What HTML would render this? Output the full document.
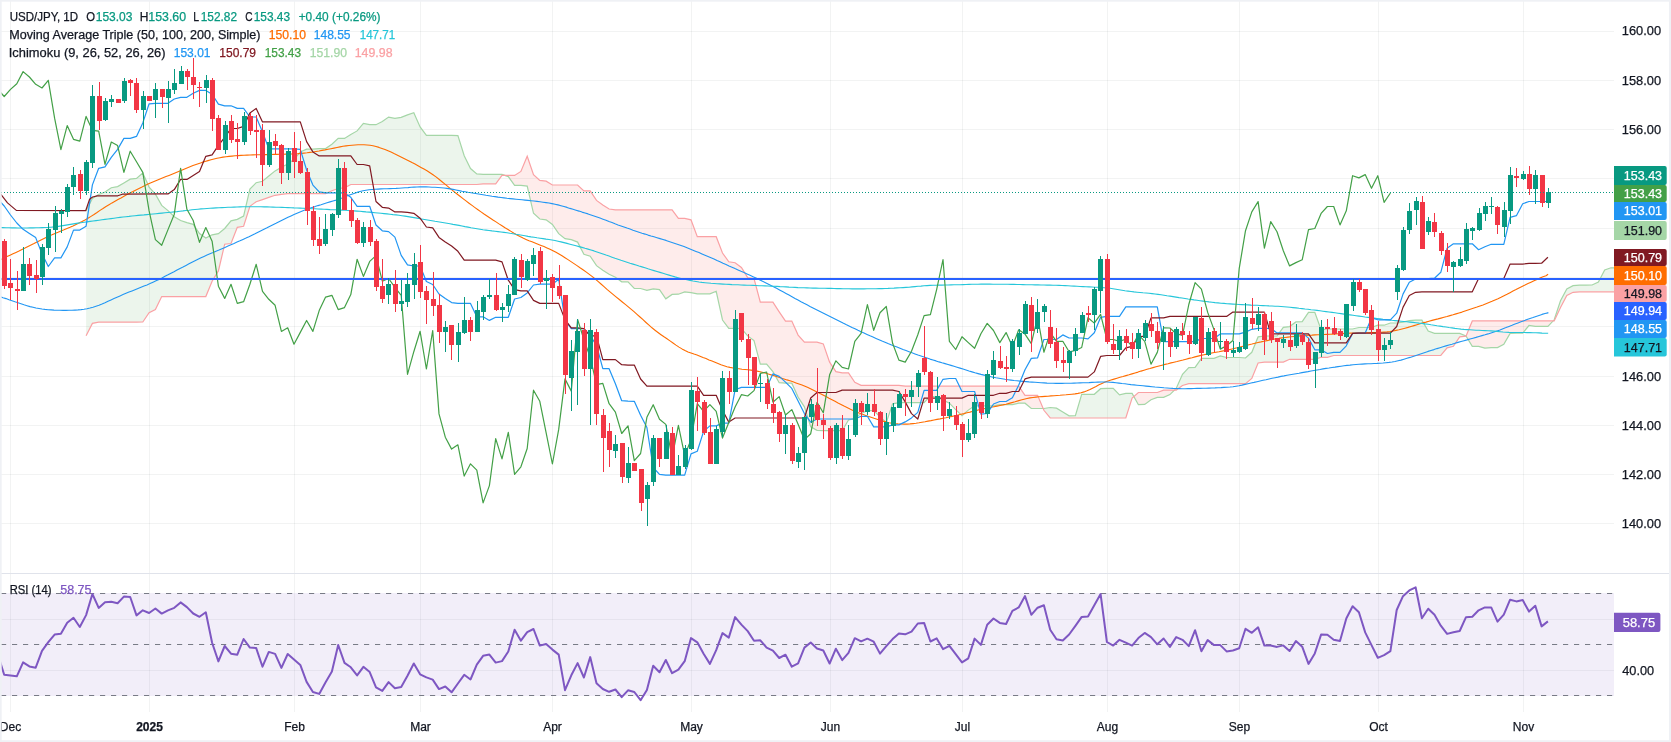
<!DOCTYPE html>
<html lang="en"><head><meta charset="utf-8"><title>USD/JPY, 1D</title>
<style>html,body{margin:0;padding:0;background:#fff;overflow:hidden}svg{display:block;will-change:transform}</style>
</head><body>
<svg width="1671" height="742" viewBox="0 0 1671 742" font-family="'Liberation Sans', 'DejaVu Sans', sans-serif" font-size="12">
<rect width="1671" height="742" fill="#ffffff"/>
<g stroke="#2a2e39" stroke-opacity="0.06" stroke-width="1" shape-rendering="crispEdges">
<line x1="10.5" y1="0" x2="10.5" y2="712"/>
<line x1="149.5" y1="0" x2="149.5" y2="712"/>
<line x1="294.5" y1="0" x2="294.5" y2="712"/>
<line x1="420.5" y1="0" x2="420.5" y2="712"/>
<line x1="552.5" y1="0" x2="552.5" y2="712"/>
<line x1="691.5" y1="0" x2="691.5" y2="712"/>
<line x1="830.5" y1="0" x2="830.5" y2="712"/>
<line x1="962.5" y1="0" x2="962.5" y2="712"/>
<line x1="1107.5" y1="0" x2="1107.5" y2="712"/>
<line x1="1239.5" y1="0" x2="1239.5" y2="712"/>
<line x1="1378.5" y1="0" x2="1378.5" y2="712"/>
<line x1="1523.5" y1="0" x2="1523.5" y2="712"/>
<line x1="0" y1="523.5" x2="1614" y2="523.5"/>
<line x1="0" y1="474.5" x2="1614" y2="474.5"/>
<line x1="0" y1="425.5" x2="1614" y2="425.5"/>
<line x1="0" y1="376.5" x2="1614" y2="376.5"/>
<line x1="0" y1="326.5" x2="1614" y2="326.5"/>
<line x1="0" y1="277.5" x2="1614" y2="277.5"/>
<line x1="0" y1="228.5" x2="1614" y2="228.5"/>
<line x1="0" y1="178.5" x2="1614" y2="178.5"/>
<line x1="0" y1="129.5" x2="1614" y2="129.5"/>
<line x1="0" y1="80.5" x2="1614" y2="80.5"/>
<line x1="0" y1="31.5" x2="1614" y2="31.5"/>
<line x1="0" y1="670.5" x2="1614" y2="670.5"/>
<line x1="0" y1="619.5" x2="1614" y2="619.5"/>
</g>
<clipPath id="cm"><rect x="0" y="0" width="1614" height="573"/></clipPath>
<clipPath id="cr"><rect x="0" y="574" width="1614" height="138"/></clipPath>
<g clip-path="url(#cm)">
<polygon points="86.1,210.7 92.4,198.4 98.7,194.5 105,192 111.3,187.7 117.6,186.6 123.9,182.9 130.2,179.2 136.5,178.4 142.8,173 149.1,187.1 155.4,194.1 161.7,205.4 168,210.6 174.3,216.7 180.6,220.5 186.9,222.6 193.2,224.3 199.5,233.6 205.8,238 212.1,234.8 218.4,233.6 224.7,228.5 231,220.8 237.3,219.4 243.6,216.1 249.9,189 256.2,182.7 262.5,181.3 268.8,176 275.1,170.9 281.4,167.2 287.7,164.1 294,159.5 300.3,151.9 306.6,149.1 312.9,149.1 319.2,148.6 325.6,148.6 331.9,144.3 338.2,138.4 344.5,138.4 350.8,134.4 357.1,130.9 363.4,123.4 369.7,124.6 376,124.7 382.3,121.6 388.6,117.1 394.9,118.4 401.2,117.4 407.5,114.9 413.8,112.7 420.1,126.9 426.4,135.3 432.7,135.3 439,135.3 445.3,135.3 451.6,135.3 457.9,135.6 464.2,155.8 470.5,168.5 476.8,173.9 483.1,174.4 489.4,174.4 495.7,174.4 502,174.4 504.9,175.4 504.9,175.4 502,175.4 495.7,183.9 489.4,183.9 483.1,183.9 476.8,184.5 470.5,184.5 464.2,184.5 457.9,184.5 451.6,184.5 445.3,184.5 439,184.5 432.7,184.5 426.4,184.5 420.1,184.5 413.8,184.5 407.5,184.5 401.2,184.5 394.9,184.5 388.6,184.5 382.3,184.5 376,184.5 369.7,184.5 363.4,184.5 357.1,184.5 350.8,184.5 344.5,187.9 338.2,188.5 331.9,190.7 325.6,193.6 319.2,193.6 312.9,193.6 306.6,193.6 300.3,193.6 294,193.6 287.7,193.6 281.4,194.3 275.1,195.3 268.8,197.4 262.5,199.6 256.2,201.7 249.9,206.3 243.6,226.3 237.3,227.4 231,243.5 224.7,244.2 218.4,270.9 212.1,281.2 205.8,296.6 199.5,296.6 193.2,296.6 186.9,296.6 180.6,296.6 174.3,296.6 168,296.6 161.7,296.6 155.4,309.5 149.1,312.6 142.8,322 136.5,322.2 130.2,322.2 123.9,322.2 117.6,322.2 111.3,322.2 105,322.2 98.7,322.2 92.4,323.4 86.1,335.8" fill="#43a047" fill-opacity="0.1"/>
<polygon points="504.9,175.4 508.3,176.6 514.6,185.4 520.9,185.4 527.2,186.1 533.5,213.3 539.8,219 546.1,219.8 552.4,224.5 558.7,233.6 565,238.7 571.3,239.7 577.6,242.1 583.9,254.2 590.2,256.2 596.5,265.7 602.8,270.3 609.1,274.3 615.4,277.3 621.7,281.8 628,281.8 634.3,288.5 640.6,288.5 646.9,290.3 653.2,288.8 659.5,289.6 665.8,298.8 672.1,294.4 678.4,294.2 684.7,291.9 691,292.7 697.3,293.8 703.6,293.8 709.9,293.8 716.2,291.3 722.5,320 728.8,328.3 735.1,328.3 741.4,328.7 747.7,335.9 754,340.5 760.3,364.1 766.6,364.1 772.9,371.7 779.2,382.7 785.5,383.1 791.8,383.2 798.1,397.1 804.4,406.8 810.7,426.8 817,430.3 823.3,430.7 829.6,430.7 835.9,430.7 842.2,430.7 848.5,420 854.8,418.7 861.1,413.4 867.4,410.6 873.7,410.6 880,416.7 886.3,422.6 892.6,403.8 898.9,402.7 905.2,402.7 911.5,402.7 917.8,402.7 924.1,402.7 930.4,395.9 936.7,397.2 943,400 949.4,403.2 955.7,409.6 962,415.8 968.3,410.1 974.6,405.8 980.9,405.8 987.2,405.8 993.5,405.8 999.8,404.6 1006.1,404.6 1012.4,404.6 1018.7,403.2 1025,403.2 1031.3,408.5 1037.6,408.5 1043.1,408.5 1043.1,408.5 1037.6,395.3 1031.3,395.3 1025,395.3 1018.7,386.1 1012.4,386.1 1006.1,386.1 999.8,386.1 993.5,386.1 987.2,386.1 980.9,386.1 974.6,386.1 968.3,386.1 962,386.1 955.7,386.1 949.4,386.1 943,386.1 936.7,386.1 930.4,386.1 924.1,386.1 917.8,386.1 911.5,386.1 905.2,386.1 898.9,385.3 892.6,385.3 886.3,385.3 880,385.3 873.7,385.3 867.4,385.3 861.1,385.3 854.8,382.4 848.5,372.9 842.2,372.9 835.9,371.7 829.6,362.2 823.3,343.9 817,342.2 810.7,342.2 804.4,342.2 798.1,335.1 791.8,321.1 785.5,321.1 779.2,311.8 772.9,302.2 766.6,302.2 760.3,302.2 754,278.5 747.7,277.6 741.4,267.5 735.1,262.7 728.8,261.8 722.5,253 716.2,236.7 709.9,236.7 703.6,236.7 697.3,236.7 691,219.8 684.7,218.4 678.4,218.4 672.1,209.8 665.8,209.8 659.5,209.8 653.2,209.8 646.9,209.8 640.6,209.8 634.3,209.8 628,209.8 621.7,209.8 615.4,209.8 609.1,209 602.8,205 596.5,200.4 590.2,190.9 583.9,190.9 577.6,185 571.3,185 565,185 558.7,185 552.4,185 546.1,181.2 539.8,180.4 533.5,174.7 527.2,156.3 520.9,171.4 514.6,175.4 508.3,175.4 504.9,175.4" fill="#f44336" fill-opacity="0.1"/>
<polygon points="1043.1,408.5 1043.9,408.5 1050.2,407.5 1056.5,408.2 1062.8,411.9 1069.1,415.8 1075.4,415.7 1081.7,394.3 1088,394.3 1094.3,394.3 1100.6,388.7 1106.9,388.3 1113.2,388.3 1119.5,394.8 1125.8,393.4 1132.1,393.4 1133.8,396.5 1133.8,396.5 1132.1,398 1125.8,418 1119.5,418 1113.2,418 1106.9,418 1100.6,418 1094.3,418 1088,418 1081.7,418 1075.4,418 1069.1,418 1062.8,418 1056.5,418 1050.2,418 1043.9,410.3 1043.1,408.5" fill="#43a047" fill-opacity="0.1"/>
<polygon points="1133.8,396.5 1138.4,404.7 1144.7,404.4 1151,399.7 1157.3,397.4 1163.6,397.4 1169.9,394.6 1174.4,390.1 1174.4,390.1 1169.9,390.1 1163.6,390.1 1157.3,392.5 1151,392.5 1144.7,392.5 1138.4,392.5 1133.8,396.5" fill="#f44336" fill-opacity="0.1"/>
<polygon points="1174.4,390.1 1176.2,388.4 1182.5,374.3 1188.8,367.7 1195.1,367.4 1201.4,358.3 1207.7,358.3 1214,358.3 1220.3,356 1226.6,357.5 1232.9,357.5 1239.2,357.5 1245.5,358 1251.8,352.3 1258.1,336.9 1264.4,336 1270.7,336 1277,336 1283.3,327.4 1289.6,326.6 1295.9,321.9 1302.2,321.6 1308.5,312.4 1314.8,312.4 1321.1,329.8 1327.4,329 1333.7,329 1340,329 1346.3,329 1352.6,329 1358.9,327.5 1365.2,327.5 1371.5,327.5 1377.8,325.2 1384.1,325.2 1390.4,323 1396.7,323 1403,322.1 1409.3,320.7 1415.6,320.2 1421.9,320.2 1428.2,331.1 1434.5,333.4 1440.8,333.4 1447.1,333.4 1453.4,333.4 1459.7,333.4 1466,336 1466.1,336.1 1466.1,336.1 1466,336.2 1459.7,336.8 1453.4,346.3 1447.1,347.9 1440.8,355.5 1434.5,355.5 1428.2,355.5 1421.9,355.5 1415.6,355.5 1409.3,355.5 1403,355.5 1396.7,355.5 1390.4,355.5 1384.1,355.5 1377.8,355.5 1371.5,355.5 1365.2,355.5 1358.9,355.5 1352.6,355.5 1346.3,355.5 1340,355.5 1333.7,355.5 1327.4,357.3 1321.1,357.3 1314.8,359.3 1308.5,359.3 1302.2,359.3 1295.9,359.3 1289.6,359.3 1283.3,362.1 1277,362.1 1270.7,362.1 1264.4,362.1 1258.1,363 1251.8,378.5 1245.5,383.7 1239.2,383.7 1232.9,383.7 1226.6,383.7 1220.3,383.7 1214,383.7 1207.7,383.7 1201.4,383.7 1195.1,383.7 1188.8,383.7 1182.5,385.5 1176.2,390.1 1174.4,390.1" fill="#43a047" fill-opacity="0.1"/>
<polygon points="1466.1,336.1 1472.3,346.3 1478.6,346.3 1484.9,348.1 1491.2,347.6 1497.5,347.6 1503.8,344.3 1510.1,333.4 1516.4,333.1 1522.7,333.1 1529,325.5 1535.3,326.4 1541.6,326.4 1547.9,326.4 1553.2,320.9 1553.2,320.9 1547.9,320.9 1541.6,320.9 1535.3,320.9 1529,320.9 1522.7,320.9 1516.4,320.9 1510.1,320.9 1503.8,320.9 1497.5,320.9 1491.2,320.9 1484.9,320.9 1478.6,320.9 1472.3,320.9 1466.1,336.1" fill="#f44336" fill-opacity="0.1"/>
<polygon points="1553.2,320.9 1554.2,319.8 1560.5,300.7 1566.8,288.9 1573.1,285.7 1579.5,285.1 1585.8,285.1 1592.1,285 1598.4,282 1604.7,270 1611,267.8 1617.3,267.8 1617.3,291.8 1611,291.8 1604.7,291.8 1598.4,291.8 1592.1,291.8 1585.8,291.8 1579.5,291.8 1573.1,292.3 1566.8,295.5 1560.5,307.4 1554.2,320.9 1553.2,320.9" fill="#43a047" fill-opacity="0.1"/>
<polyline points="86.1,210.7 92.4,198.4 98.7,194.5 105,192 111.3,187.7 117.6,186.6 123.9,182.9 130.2,179.2 136.5,178.4 142.8,173 149.1,187.1 155.4,194.1 161.7,205.4 168,210.6 174.3,216.7 180.6,220.5 186.9,222.6 193.2,224.3 199.5,233.6 205.8,238 212.1,234.8 218.4,233.6 224.7,228.5 231,220.8 237.3,219.4 243.6,216.1 249.9,189 256.2,182.7 262.5,181.3 268.8,176 275.1,170.9 281.4,167.2 287.7,164.1 294,159.5 300.3,151.9 306.6,149.1 312.9,149.1 319.2,148.6 325.6,148.6 331.9,144.3 338.2,138.4 344.5,138.4 350.8,134.4 357.1,130.9 363.4,123.4 369.7,124.6 376,124.7 382.3,121.6 388.6,117.1 394.9,118.4 401.2,117.4 407.5,114.9 413.8,112.7 420.1,126.9 426.4,135.3 432.7,135.3 439,135.3 445.3,135.3 451.6,135.3 457.9,135.6 464.2,155.8 470.5,168.5 476.8,173.9 483.1,174.4 489.4,174.4 495.7,174.4 502,174.4 508.3,176.6 514.6,185.4 520.9,185.4 527.2,186.1 533.5,213.3 539.8,219 546.1,219.8 552.4,224.5 558.7,233.6 565,238.7 571.3,239.7 577.6,242.1 583.9,254.2 590.2,256.2 596.5,265.7 602.8,270.3 609.1,274.3 615.4,277.3 621.7,281.8 628,281.8 634.3,288.5 640.6,288.5 646.9,290.3 653.2,288.8 659.5,289.6 665.8,298.8 672.1,294.4 678.4,294.2 684.7,291.9 691,292.7 697.3,293.8 703.6,293.8 709.9,293.8 716.2,291.3 722.5,320 728.8,328.3 735.1,328.3 741.4,328.7 747.7,335.9 754,340.5 760.3,364.1 766.6,364.1 772.9,371.7 779.2,382.7 785.5,383.1 791.8,383.2 798.1,397.1 804.4,406.8 810.7,426.8 817,430.3 823.3,430.7 829.6,430.7 835.9,430.7 842.2,430.7 848.5,420 854.8,418.7 861.1,413.4 867.4,410.6 873.7,410.6 880,416.7 886.3,422.6 892.6,403.8 898.9,402.7 905.2,402.7 911.5,402.7 917.8,402.7 924.1,402.7 930.4,395.9 936.7,397.2 943,400 949.4,403.2 955.7,409.6 962,415.8 968.3,410.1 974.6,405.8 980.9,405.8 987.2,405.8 993.5,405.8 999.8,404.6 1006.1,404.6 1012.4,404.6 1018.7,403.2 1025,403.2 1031.3,408.5 1037.6,408.5 1043.9,408.5 1050.2,407.5 1056.5,408.2 1062.8,411.9 1069.1,415.8 1075.4,415.7 1081.7,394.3 1088,394.3 1094.3,394.3 1100.6,388.7 1106.9,388.3 1113.2,388.3 1119.5,394.8 1125.8,393.4 1132.1,393.4 1138.4,404.7 1144.7,404.4 1151,399.7 1157.3,397.4 1163.6,397.4 1169.9,394.6 1176.2,388.4 1182.5,374.3 1188.8,367.7 1195.1,367.4 1201.4,358.3 1207.7,358.3 1214,358.3 1220.3,356 1226.6,357.5 1232.9,357.5 1239.2,357.5 1245.5,358 1251.8,352.3 1258.1,336.9 1264.4,336 1270.7,336 1277,336 1283.3,327.4 1289.6,326.6 1295.9,321.9 1302.2,321.6 1308.5,312.4 1314.8,312.4 1321.1,329.8 1327.4,329 1333.7,329 1340,329 1346.3,329 1352.6,329 1358.9,327.5 1365.2,327.5 1371.5,327.5 1377.8,325.2 1384.1,325.2 1390.4,323 1396.7,323 1403,322.1 1409.3,320.7 1415.6,320.2 1421.9,320.2 1428.2,331.1 1434.5,333.4 1440.8,333.4 1447.1,333.4 1453.4,333.4 1459.7,333.4 1466,336 1472.3,346.3 1478.6,346.3 1484.9,348.1 1491.2,347.6 1497.5,347.6 1503.8,344.3 1510.1,333.4 1516.4,333.1 1522.7,333.1 1529,325.5 1535.3,326.4 1541.6,326.4 1547.9,326.4 1554.2,319.8 1560.5,300.7 1566.8,288.9 1573.1,285.7 1579.5,285.1 1585.8,285.1 1592.1,285 1598.4,282 1604.7,270 1611,267.8 1617.3,267.8" fill="none" stroke="#a5d6a7" stroke-width="1.2"/>
<polyline points="86.1,335.8 92.4,323.4 98.7,322.2 105,322.2 111.3,322.2 117.6,322.2 123.9,322.2 130.2,322.2 136.5,322.2 142.8,322 149.1,312.6 155.4,309.5 161.7,296.6 168,296.6 174.3,296.6 180.6,296.6 186.9,296.6 193.2,296.6 199.5,296.6 205.8,296.6 212.1,281.2 218.4,270.9 224.7,244.2 231,243.5 237.3,227.4 243.6,226.3 249.9,206.3 256.2,201.7 262.5,199.6 268.8,197.4 275.1,195.3 281.4,194.3 287.7,193.6 294,193.6 300.3,193.6 306.6,193.6 312.9,193.6 319.2,193.6 325.6,193.6 331.9,190.7 338.2,188.5 344.5,187.9 350.8,184.5 357.1,184.5 363.4,184.5 369.7,184.5 376,184.5 382.3,184.5 388.6,184.5 394.9,184.5 401.2,184.5 407.5,184.5 413.8,184.5 420.1,184.5 426.4,184.5 432.7,184.5 439,184.5 445.3,184.5 451.6,184.5 457.9,184.5 464.2,184.5 470.5,184.5 476.8,184.5 483.1,183.9 489.4,183.9 495.7,183.9 502,175.4 508.3,175.4 514.6,175.4 520.9,171.4 527.2,156.3 533.5,174.7 539.8,180.4 546.1,181.2 552.4,185 558.7,185 565,185 571.3,185 577.6,185 583.9,190.9 590.2,190.9 596.5,200.4 602.8,205 609.1,209 615.4,209.8 621.7,209.8 628,209.8 634.3,209.8 640.6,209.8 646.9,209.8 653.2,209.8 659.5,209.8 665.8,209.8 672.1,209.8 678.4,218.4 684.7,218.4 691,219.8 697.3,236.7 703.6,236.7 709.9,236.7 716.2,236.7 722.5,253 728.8,261.8 735.1,262.7 741.4,267.5 747.7,277.6 754,278.5 760.3,302.2 766.6,302.2 772.9,302.2 779.2,311.8 785.5,321.1 791.8,321.1 798.1,335.1 804.4,342.2 810.7,342.2 817,342.2 823.3,343.9 829.6,362.2 835.9,371.7 842.2,372.9 848.5,372.9 854.8,382.4 861.1,385.3 867.4,385.3 873.7,385.3 880,385.3 886.3,385.3 892.6,385.3 898.9,385.3 905.2,386.1 911.5,386.1 917.8,386.1 924.1,386.1 930.4,386.1 936.7,386.1 943,386.1 949.4,386.1 955.7,386.1 962,386.1 968.3,386.1 974.6,386.1 980.9,386.1 987.2,386.1 993.5,386.1 999.8,386.1 1006.1,386.1 1012.4,386.1 1018.7,386.1 1025,395.3 1031.3,395.3 1037.6,395.3 1043.9,410.3 1050.2,418 1056.5,418 1062.8,418 1069.1,418 1075.4,418 1081.7,418 1088,418 1094.3,418 1100.6,418 1106.9,418 1113.2,418 1119.5,418 1125.8,418 1132.1,398 1138.4,392.5 1144.7,392.5 1151,392.5 1157.3,392.5 1163.6,390.1 1169.9,390.1 1176.2,390.1 1182.5,385.5 1188.8,383.7 1195.1,383.7 1201.4,383.7 1207.7,383.7 1214,383.7 1220.3,383.7 1226.6,383.7 1232.9,383.7 1239.2,383.7 1245.5,383.7 1251.8,378.5 1258.1,363 1264.4,362.1 1270.7,362.1 1277,362.1 1283.3,362.1 1289.6,359.3 1295.9,359.3 1302.2,359.3 1308.5,359.3 1314.8,359.3 1321.1,357.3 1327.4,357.3 1333.7,355.5 1340,355.5 1346.3,355.5 1352.6,355.5 1358.9,355.5 1365.2,355.5 1371.5,355.5 1377.8,355.5 1384.1,355.5 1390.4,355.5 1396.7,355.5 1403,355.5 1409.3,355.5 1415.6,355.5 1421.9,355.5 1428.2,355.5 1434.5,355.5 1440.8,355.5 1447.1,347.9 1453.4,346.3 1459.7,336.8 1466,336.2 1472.3,320.9 1478.6,320.9 1484.9,320.9 1491.2,320.9 1497.5,320.9 1503.8,320.9 1510.1,320.9 1516.4,320.9 1522.7,320.9 1529,320.9 1535.3,320.9 1541.6,320.9 1547.9,320.9 1554.2,320.9 1560.5,307.4 1566.8,295.5 1573.1,292.3 1579.5,291.8 1585.8,291.8 1592.1,291.8 1598.4,291.8 1604.7,291.8 1611,291.8 1617.3,291.8" fill="none" stroke="#faa1a4" stroke-width="1.2"/>
<polyline points="1,259.4 4,257.7 7,256.6 10,255.2 13,253.8 16,252.4 19,251 22,249.5 25,248.1 28,246.6 31,245.1 34,243.6 37,242 40,240.5 43,239 46,237.5 49,236.1 52,234.8 55,233.4 58,232.2 61,230.9 64,229.7 67,228.4 70,227.2 73,225.9 76,224.5 79,223.1 82,221.6 85,220 88,218.3 91,216.4 94,214.5 97,212.5 100,210.4 103,208.5 106,206.5 109,204.7 112,202.9 115,201.2 118,199.5 121,197.9 124,196.2 127,194.6 130,193 133,191.5 136,189.9 139,188.4 142,187 145,185.5 148,184.1 151,182.8 154,181.5 157,180.2 160,179 163,177.8 166,176.6 169,175.4 172,174.2 175,173 178,171.8 181,170.6 184,169.3 187,168 190,166.8 193,165.6 196,164.5 199,163.4 202,162.4 205,161.5 208,160.6 211,159.8 214,159 217,158.3 220,157.7 223,157.1 226,156.7 229,156.4 232,156.1 235,155.8 238,155.6 241,155.4 244,155.2 247,155.1 250,155 253,154.9 256,154.8 259,154.7 262,154.7 265,154.6 268,154.6 271,154.5 274,154.4 277,154.4 280,154.3 283,154.2 286,154.1 289,154 292,153.9 295,153.7 298,153.6 301,153.4 304,153.1 307,152.8 310,152.4 313,152 316,151.5 319,151 322,150.4 325,149.9 328,149.3 331,148.7 334,148.1 337,147.5 340,146.9 343,146.3 346,145.9 349,145.5 352,145.2 355,145 358,144.8 361,144.7 364,144.8 367,145 370,145.3 373,145.8 376,146.5 379,147.4 382,148.4 385,149.5 388,150.8 391,152.1 394,153.6 397,155 400,156.5 403,158 406,159.5 409,161 412,162.6 415,164.1 418,165.7 421,167.4 424,169.1 427,170.8 430,172.7 433,174.8 436,176.9 439,179.3 442,181.7 445,184.2 448,186.7 451,189.2 454,191.6 457,194 460,196.3 463,198.6 466,200.9 469,203.2 472,205.4 475,207.6 478,209.8 481,211.9 484,214 487,216 490,218 493,220 496,221.9 499,223.9 502,225.8 505,227.7 508,229.5 511,231.4 514,233.3 517,235 520,236.6 523,238.1 526,239.4 529,240.7 532,241.8 535,243 538,244.2 541,245.4 544,246.6 547,247.9 550,249.3 553,250.7 556,252.3 559,254 562,255.8 565,257.7 568,259.6 571,261.6 574,263.6 577,265.6 580,267.7 583,269.7 586,271.9 589,274.1 592,276.4 595,278.8 598,281.4 601,284 604,286.7 607,289.4 610,291.9 613,294.4 616,296.9 619,299.3 622,301.7 625,304.1 628,306.6 631,309.1 634,311.7 637,314.3 640,317 643,319.7 646,322.5 649,325.2 652,327.8 655,330.2 658,332.5 661,334.7 664,336.8 667,338.8 670,340.9 673,343 676,345.1 679,347.1 682,348.9 685,350.5 688,351.9 691,353 694,354.1 697,355.1 700,356.3 703,357.5 706,358.6 709,359.9 712,361.1 715,362.3 718,363.5 721,364.7 724,365.7 727,366.7 730,367.4 733,368 736,368.5 739,368.8 742,369.2 745,369.5 748,369.8 751,370.1 754,370.6 757,371.1 760,371.7 763,372.5 766,373.3 769,374.2 772,375.1 775,376 778,377 781,377.9 784,378.9 787,379.9 790,380.8 793,381.8 796,382.9 799,384 802,385.1 805,386.3 808,387.6 811,388.9 814,390.4 817,391.9 820,393.5 823,395 826,396.6 829,398.2 832,399.7 835,401.3 838,402.9 841,404.4 844,406 847,407.5 850,409 853,410.4 856,411.7 859,412.9 862,414.1 865,415.2 868,416.3 871,417.3 874,418.3 877,419.2 880,420.2 883,421.1 886,421.9 889,422.7 892,423.2 895,423.7 898,423.9 901,424 904,424.1 907,424.1 910,423.9 913,423.6 916,423.3 919,422.8 922,422.2 925,421.7 928,421.1 931,420.6 934,420 937,419.4 940,418.9 943,418.3 946,417.7 949,417 952,416.4 955,415.7 958,415 961,414.3 964,413.6 967,412.8 970,412.1 973,411.3 976,410.6 979,409.8 982,409.2 985,408.5 988,407.9 991,407.3 994,406.7 997,406.1 1000,405.5 1003,404.9 1006,404.2 1009,403.4 1012,402.6 1015,401.8 1018,400.9 1021,400 1024,399.2 1027,398.5 1030,397.9 1033,397.5 1036,397.1 1039,396.8 1042,396.6 1045,396.4 1048,396.2 1051,395.9 1054,395.7 1057,395.5 1060,395.3 1063,395 1066,394.8 1069,394.5 1072,394.2 1075,393.9 1078,393.4 1081,392.8 1084,391.9 1087,390.8 1090,389.5 1093,387.9 1096,386.4 1099,384.8 1102,383.4 1105,382.1 1108,381 1111,380 1114,379.1 1117,378.2 1120,377.3 1123,376.5 1126,375.6 1129,374.8 1132,373.9 1135,373 1138,372.1 1141,371.1 1144,370.2 1147,369.3 1150,368.5 1153,367.6 1156,366.8 1159,366 1162,365.2 1165,364.4 1168,363.7 1171,362.9 1174,362.2 1177,361.5 1180,360.7 1183,360 1186,359.2 1189,358.4 1192,357.7 1195,356.9 1198,356.1 1201,355.4 1204,354.7 1207,354.1 1210,353.4 1213,352.8 1216,352.2 1219,351.7 1222,351.1 1225,350.5 1228,349.9 1231,349.2 1234,348.5 1237,347.8 1240,347 1243,346.2 1246,345.5 1249,344.7 1252,344 1255,343.2 1258,342.5 1261,341.9 1264,341.2 1267,340.6 1270,340 1273,339.4 1276,338.8 1279,338.4 1282,337.9 1285,337.5 1288,337.1 1291,336.8 1294,336.5 1297,336.2 1300,335.9 1303,335.7 1306,335.4 1309,335.2 1312,335.1 1315,334.9 1318,334.8 1321,334.7 1324,334.5 1327,334.4 1330,334.3 1333,334.1 1336,333.9 1339,333.8 1342,333.6 1345,333.4 1348,333.3 1351,333.1 1354,333 1357,332.9 1360,332.8 1363,332.8 1366,332.7 1369,332.7 1372,332.6 1375,332.6 1378,332.5 1381,332.3 1384,332.1 1387,331.9 1390,331.5 1393,331 1396,330.4 1399,329.8 1402,329 1405,328.2 1408,327.4 1411,326.5 1414,325.6 1417,324.7 1420,323.8 1423,322.9 1426,322.1 1429,321.2 1432,320.4 1435,319.6 1438,318.9 1441,318.1 1444,317.3 1447,316.5 1450,315.6 1453,314.8 1456,313.9 1459,313 1462,312.1 1465,311.1 1468,310.1 1471,309.1 1474,308.1 1477,307.1 1480,306 1483,304.9 1486,303.7 1489,302.5 1492,301.3 1495,300 1498,298.7 1501,297.3 1504,295.8 1507,294.3 1510,292.7 1513,291.1 1516,289.6 1519,288 1522,286.5 1525,285.1 1528,283.6 1531,282.2 1534,280.8 1537,279.4 1540,278 1543,276.7 1546,275.7 1548.1,274.3" fill="none" stroke="#ff6d00" stroke-width="1.1" stroke-linejoin="round"/>
<polyline points="0,296.6 3,297.8 6,298.6 9,299.7 12,300.7 15,301.8 18,302.8 21,303.8 24,304.8 27,305.7 30,306.6 33,307.3 36,308 39,308.5 42,309 45,309.4 48,309.7 51,309.9 54,310.1 57,310.2 60,310.3 63,310.4 66,310.4 69,310.3 72,310.3 75,310.1 78,309.9 81,309.6 84,309.2 87,308.7 90,308 93,307.2 96,306.2 99,305.2 102,304 105,302.7 108,301.3 111,299.9 114,298.5 117,297.2 120,295.9 123,294.6 126,293.3 129,292.1 132,290.9 135,289.7 138,288.5 141,287.3 144,286.1 147,284.9 150,283.6 153,282.2 156,280.8 159,279.4 162,277.9 165,276.3 168,274.8 171,273.2 174,271.7 177,270.1 180,268.5 183,267 186,265.4 189,263.8 192,262.2 195,260.7 198,259.2 201,257.8 204,256.4 207,255 210,253.7 213,252.5 216,251.2 219,250 222,248.7 225,247.4 228,246.1 231,244.8 234,243.5 237,242.1 240,240.8 243,239.4 246,238.1 249,236.7 252,235.2 255,233.8 258,232.3 261,230.8 264,229.3 267,227.8 270,226.2 273,224.7 276,223.3 279,221.8 282,220.3 285,218.8 288,217.3 291,215.9 294,214.5 297,213.2 300,211.9 303,210.7 306,209.6 309,208.6 312,207.5 315,206.6 318,205.6 321,204.7 324,203.7 327,202.8 330,201.9 333,201 336,200.1 339,199.1 342,198 345,196.8 348,195.6 351,194.5 354,193.4 357,192.4 360,191.5 363,190.8 366,190.2 369,189.8 372,189.5 375,189.3 378,189.1 381,188.9 384,188.8 387,188.7 390,188.6 393,188.5 396,188.4 399,188.2 402,188 405,187.8 408,187.6 411,187.3 414,187.1 417,187 420,186.9 423,186.9 426,186.9 429,187 432,187.2 435,187.3 438,187.5 441,187.7 444,188 447,188.4 450,188.9 453,189.4 456,190 459,190.6 462,191.2 465,191.7 468,192.3 471,192.8 474,193.3 477,193.8 480,194.3 483,194.8 486,195.3 489,195.7 492,196.2 495,196.6 498,197.1 501,197.5 504,197.9 507,198.3 510,198.6 513,198.9 516,199.2 519,199.5 522,199.8 525,200.1 528,200.4 531,200.7 534,201 537,201.4 540,201.8 543,202.2 546,202.6 549,203 552,203.6 555,204.2 558,204.9 561,205.7 564,206.5 567,207.4 570,208.4 573,209.3 576,210.2 579,211.1 582,212.1 585,213 588,213.9 591,214.9 594,215.9 597,217 600,218.1 603,219.2 606,220.3 609,221.5 612,222.6 615,223.8 618,224.9 621,225.9 624,227 627,228.1 630,229.1 633,230.2 636,231.2 639,232.2 642,233.2 645,234.1 648,235.1 651,236 654,236.8 657,237.7 660,238.6 663,239.5 666,240.4 669,241.4 672,242.4 675,243.4 678,244.4 681,245.5 684,246.6 687,247.8 690,249 693,250.2 696,251.4 699,252.6 702,253.9 705,255.2 708,256.5 711,257.8 714,259.1 717,260.5 720,261.8 723,263.2 726,264.5 729,265.9 732,267.2 735,268.6 738,269.9 741,271.3 744,272.6 747,273.9 750,275.3 753,276.7 756,278.1 759,279.5 762,281 765,282.5 768,284 771,285.5 774,287 777,288.6 780,290.2 783,291.8 786,293.4 789,295 792,296.7 795,298.4 798,300 801,301.7 804,303.3 807,304.8 810,306.4 813,307.9 816,309.4 819,310.9 822,312.4 825,313.9 828,315.4 831,316.9 834,318.4 837,319.9 840,321.4 843,323 846,324.5 849,325.9 852,327.4 855,328.8 858,330.3 861,331.7 864,333 867,334.4 870,335.8 873,337.1 876,338.4 879,339.7 882,341 885,342.2 888,343.5 891,344.7 894,345.9 897,347.1 900,348.3 903,349.5 906,350.6 909,351.7 912,352.8 915,353.9 918,355 921,356 924,357.1 927,358.1 930,359.1 933,360 936,360.9 939,361.9 942,362.8 945,363.6 948,364.5 951,365.4 954,366.3 957,367.2 960,368.1 963,369 966,370 969,371 972,371.9 975,372.8 978,373.6 981,374.4 984,375.1 987,375.8 990,376.5 993,377.2 996,377.8 999,378.3 1002,378.8 1005,379.3 1008,379.7 1011,380.1 1014,380.5 1017,380.8 1020,381.1 1023,381.4 1026,381.6 1029,381.9 1032,382.1 1035,382.3 1038,382.5 1041,382.7 1044,382.9 1047,383.1 1050,383.2 1053,383.3 1056,383.4 1059,383.4 1062,383.4 1065,383.3 1068,383.3 1071,383.2 1074,383.1 1077,383 1080,382.9 1083,382.8 1086,382.7 1089,382.6 1092,382.4 1095,382.3 1098,382.1 1101,382 1104,382 1107,382 1110,382.2 1113,382.4 1116,382.7 1119,383.1 1122,383.5 1125,383.8 1128,384.2 1131,384.6 1134,384.9 1137,385.2 1140,385.5 1143,385.8 1146,386.1 1149,386.4 1152,386.7 1155,387 1158,387.2 1161,387.5 1164,387.8 1167,388 1170,388.2 1173,388.4 1176,388.5 1179,388.6 1182,388.7 1185,388.7 1188,388.6 1191,388.6 1194,388.5 1197,388.4 1200,388.4 1203,388.3 1206,388.2 1209,388.1 1212,388 1215,387.9 1218,387.7 1221,387.6 1224,387.4 1227,387.2 1230,387 1233,386.7 1236,386.2 1239,385.7 1242,385.1 1245,384.4 1248,383.7 1251,383 1254,382.4 1257,381.7 1260,381 1263,380.3 1266,379.7 1269,379 1272,378.3 1275,377.7 1278,377.1 1281,376.4 1284,375.9 1287,375.3 1290,374.7 1293,374.2 1296,373.7 1299,373.2 1302,372.6 1305,372.1 1308,371.6 1311,371 1314,370.5 1317,370 1320,369.5 1323,368.9 1326,368.4 1329,368 1332,367.5 1335,367.1 1338,366.6 1341,366.2 1344,365.8 1347,365.4 1350,365.1 1353,364.7 1356,364.5 1359,364.3 1362,364.1 1365,363.9 1368,363.8 1371,363.7 1374,363.5 1377,363.4 1380,363.2 1383,363 1386,362.7 1389,362.4 1392,362 1395,361.5 1398,360.8 1401,360.1 1404,359.2 1407,358.3 1410,357.4 1413,356.4 1416,355.4 1419,354.4 1422,353.4 1425,352.4 1428,351.4 1431,350.5 1434,349.6 1437,348.6 1440,347.7 1443,346.8 1446,345.9 1449,345 1452,344.2 1455,343.3 1458,342.4 1461,341.5 1464,340.7 1467,339.9 1470,339 1473,338.2 1476,337.4 1479,336.5 1482,335.6 1485,334.8 1488,333.9 1491,332.9 1494,331.9 1497,330.9 1500,329.9 1503,328.7 1506,327.6 1509,326.4 1512,325.3 1515,324.1 1518,322.9 1521,321.8 1524,320.7 1527,319.6 1530,318.5 1533,317.5 1536,316.4 1539,315.4 1542,314.4 1545,313.5 1548,312.9 1548.1,312.3" fill="none" stroke="#2196f3" stroke-width="1.1" stroke-linejoin="round"/>
<polyline points="0,227.5 3,227.6 6,227.7 9,227.8 12,227.9 15,227.9 18,228 21,228 24,228 27,228 30,227.9 33,227.9 36,227.8 39,227.7 42,227.6 45,227.5 48,227.4 51,227.2 54,226.9 57,226.6 60,226.1 63,225.6 66,225.1 69,224.6 72,224.1 75,223.6 78,223.1 81,222.7 84,222.3 87,221.9 90,221.4 93,221 96,220.6 99,220.2 102,219.8 105,219.4 108,219 111,218.6 114,218.2 117,217.8 120,217.4 123,217 126,216.7 129,216.4 132,216 135,215.7 138,215.4 141,215.1 144,214.9 147,214.6 150,214.3 153,214 156,213.7 159,213.4 162,213.1 165,212.8 168,212.5 171,212.2 174,211.9 177,211.6 180,211.2 183,210.9 186,210.5 189,210.2 192,209.8 195,209.5 198,209.2 201,208.9 204,208.7 207,208.5 210,208.3 213,208.1 216,207.9 219,207.7 222,207.6 225,207.5 228,207.3 231,207.2 234,207.1 237,207 240,206.9 243,206.8 246,206.8 249,206.7 252,206.7 255,206.7 258,206.8 261,206.8 264,206.9 267,206.9 270,207 273,207.1 276,207.2 279,207.3 282,207.4 285,207.5 288,207.6 291,207.7 294,207.9 297,208 300,208.1 303,208.3 306,208.4 309,208.5 312,208.7 315,208.8 318,209 321,209.1 324,209.3 327,209.4 330,209.6 333,209.7 336,209.8 339,210 342,210.1 345,210.3 348,210.5 351,210.7 354,210.9 357,211.1 360,211.3 363,211.6 366,211.9 369,212.1 372,212.4 375,212.7 378,213 381,213.3 384,213.6 387,213.9 390,214.2 393,214.6 396,214.9 399,215.3 402,215.7 405,216.1 408,216.6 411,217.1 414,217.6 417,218.1 420,218.7 423,219.2 426,219.7 429,220.2 432,220.7 435,221.3 438,221.8 441,222.3 444,222.8 447,223.3 450,223.8 453,224.4 456,224.9 459,225.4 462,226 465,226.6 468,227.1 471,227.7 474,228.2 477,228.7 480,229.2 483,229.7 486,230.1 489,230.5 492,230.9 495,231.2 498,231.6 501,232 504,232.4 507,232.8 510,233.3 513,233.7 516,234.3 519,234.8 522,235.3 525,235.8 528,236.4 531,236.9 534,237.3 537,237.8 540,238.2 543,238.6 546,239.1 549,239.5 552,240 555,240.5 558,241.2 561,241.9 564,242.6 567,243.4 570,244.2 573,245 576,245.8 579,246.6 582,247.4 585,248.3 588,249.1 591,250 594,250.9 597,251.9 600,252.9 603,254 606,255.1 609,256.1 612,257.2 615,258.3 618,259.3 621,260.3 624,261.2 627,262.2 630,263.2 633,264.1 636,265 639,266 642,266.9 645,267.8 648,268.8 651,269.7 654,270.6 657,271.5 660,272.4 663,273.3 666,274.2 669,275.1 672,276 675,276.9 678,277.7 681,278.5 684,279.2 687,279.8 690,280.4 693,281 696,281.5 699,282 702,282.4 705,282.7 708,283 711,283.3 714,283.5 717,283.7 720,283.9 723,284.1 726,284.3 729,284.4 732,284.6 735,284.7 738,284.8 741,285 744,285.1 747,285.2 750,285.3 753,285.4 756,285.5 759,285.7 762,285.8 765,285.9 768,286 771,286.2 774,286.3 777,286.4 780,286.6 783,286.7 786,286.9 789,287.1 792,287.2 795,287.4 798,287.6 801,287.7 804,287.8 807,287.9 810,288 813,288.1 816,288.1 819,288.2 822,288.2 825,288.3 828,288.4 831,288.4 834,288.5 837,288.6 840,288.6 843,288.7 846,288.8 849,288.8 852,288.9 855,288.9 858,288.9 861,288.9 864,288.9 867,288.8 870,288.8 873,288.7 876,288.7 879,288.6 882,288.6 885,288.5 888,288.4 891,288.2 894,288.1 897,287.9 900,287.8 903,287.6 906,287.4 909,287.2 912,286.9 915,286.6 918,286.3 921,286.1 924,285.8 927,285.6 930,285.4 933,285.3 936,285.2 939,285.1 942,285.1 945,285 948,285 951,284.9 954,284.8 957,284.8 960,284.7 963,284.6 966,284.5 969,284.4 972,284.3 975,284.2 978,284.2 981,284.1 984,284.1 987,284.1 990,284.1 993,284.2 996,284.2 999,284.2 1002,284.2 1005,284.3 1008,284.3 1011,284.4 1014,284.4 1017,284.5 1020,284.5 1023,284.6 1026,284.7 1029,284.7 1032,284.8 1035,284.9 1038,284.9 1041,285 1044,285 1047,285.1 1050,285.1 1053,285.2 1056,285.3 1059,285.4 1062,285.5 1065,285.6 1068,285.8 1071,286 1074,286.1 1077,286.3 1080,286.5 1083,286.6 1086,286.8 1089,286.9 1092,287 1095,287.2 1098,287.3 1101,287.5 1104,287.7 1107,288 1110,288.3 1113,288.7 1116,289.2 1119,289.7 1122,290.2 1125,290.7 1128,291.1 1131,291.5 1134,291.9 1137,292.2 1140,292.5 1143,292.8 1146,293 1149,293.3 1152,293.6 1155,294 1158,294.4 1161,294.8 1164,295.2 1167,295.7 1170,296.1 1173,296.6 1176,297.1 1179,297.6 1182,298 1185,298.5 1188,299 1191,299.4 1194,299.9 1197,300.3 1200,300.7 1203,301.1 1206,301.5 1209,301.9 1212,302.2 1215,302.6 1218,302.9 1221,303.2 1224,303.4 1227,303.7 1230,303.9 1233,304.1 1236,304.3 1239,304.5 1242,304.6 1245,304.8 1248,304.9 1251,305.1 1254,305.2 1257,305.3 1260,305.5 1263,305.6 1266,305.7 1269,305.9 1272,306 1275,306.2 1278,306.3 1281,306.5 1284,306.7 1287,307 1290,307.3 1293,307.6 1296,307.9 1299,308.3 1302,308.6 1305,309 1308,309.3 1311,309.7 1314,310 1317,310.4 1320,310.8 1323,311.2 1326,311.6 1329,312 1332,312.4 1335,312.8 1338,313.2 1341,313.6 1344,314.1 1347,314.5 1350,314.9 1353,315.3 1356,315.7 1359,316.1 1362,316.5 1365,317 1368,317.4 1371,317.8 1374,318.1 1377,318.5 1380,318.9 1383,319.3 1386,319.6 1389,319.9 1392,320.3 1395,320.6 1398,320.9 1401,321.2 1404,321.5 1407,321.8 1410,322.1 1413,322.4 1416,322.7 1419,323.1 1422,323.4 1425,323.9 1428,324.3 1431,324.8 1434,325.2 1437,325.7 1440,326.1 1443,326.6 1446,327 1449,327.5 1452,327.9 1455,328.4 1458,328.7 1461,329.1 1464,329.4 1467,329.6 1470,329.8 1473,330 1476,330.2 1479,330.3 1482,330.5 1485,330.6 1488,330.7 1491,330.9 1494,331.1 1497,331.4 1500,331.7 1503,332 1506,332.2 1509,332.4 1512,332.5 1515,332.5 1518,332.5 1521,332.5 1524,332.5 1527,332.6 1530,332.6 1533,332.7 1536,332.8 1539,332.9 1542,333.1 1545,333.2 1548,333.3 1548.1,333.4" fill="none" stroke="#26c6da" stroke-width="1.1" stroke-linejoin="round"/>
<polyline points="-2.1,199 4.2,206 10.5,215 16.8,223 23.1,229.3 29.4,233.5 35.7,237.6 42,253.7 48.3,266.5 54.6,257.9 60.9,257.9 67.2,246.9 73.5,230.1 79.8,230.1 86.1,226.2 92.4,184.9 98.7,168.3 105,166.9 111.3,157.4 117.6,149.4 123.9,138.4 130.2,138.4 136.5,136.4 142.8,122.9 149.1,103.8 155.4,103.3 161.7,103.3 168,103.3 174.3,99 180.6,97.3 186.9,97.3 193.2,93.3 199.5,90.4 205.8,90.4 212.1,94.3 218.4,104.1 224.7,105.8 231,105.8 237.3,108.4 243.6,108.4 249.9,117 256.2,117 262.5,131.9 268.8,148.8 275.1,148.8 281.4,148.8 287.7,148.8 294,148.8 300.3,149.3 306.6,170 312.9,185.1 319.2,191.9 325.6,192.9 331.9,192.9 338.2,192.9 344.5,192.9 350.8,197.3 357.1,206.3 363.4,206.3 369.7,206.3 376,225 382.3,230.8 388.6,231.6 394.9,237.1 401.2,255.4 407.5,264.9 413.8,266 420.1,266 426.4,281.5 432.7,284.5 439,294 445.3,298.5 451.6,302.6 457.9,303.4 464.2,303.4 470.5,303.4 476.8,316.8 483.1,316.8 489.4,320.4 495.7,317.3 502,317.3 508.3,317.3 514.6,299 520.9,297.5 527.2,292.9 533.5,285 539.8,284.2 546.1,284.2 552.4,284.2 558.7,279.3 565,320.4 571.3,328.7 577.6,328.7 583.9,328.7 590.2,335.9 596.5,345.1 602.8,368.7 609.1,368.7 615.4,383.8 621.7,400.7 628,401.1 634.3,401.3 640.6,415.3 646.9,427.5 653.2,467.5 659.5,474.4 665.8,475.2 672.1,475.2 678.4,475.2 684.7,475.2 691,453.9 697.3,451.3 703.6,431.4 709.9,425.9 716.2,425.9 722.5,423.1 728.8,423.1 735.1,389.7 741.4,387.4 747.7,387.4 754,387.4 760.3,387.4 766.6,387.4 772.9,373.9 779.2,376.4 785.5,382.1 791.8,388.4 798.1,401.1 804.4,413.6 810.7,422.2 817,419 823.3,419 829.6,419 835.9,419 842.2,419 848.5,419 854.8,419 861.1,416.3 867.4,416.3 873.7,426.9 880,426.9 886.3,426.9 892.6,424.9 898.9,424.9 905.2,421.9 911.5,417.9 917.8,412.4 924.1,390.4 930.4,390.4 936.7,390.4 943,379.3 949.4,378.5 955.7,378.5 962,391.5 968.3,391.5 974.6,391.5 980.9,414.1 987.2,413.5 993.5,404 999.8,401.5 1006.1,401.5 1012.4,397.7 1018.7,385.3 1025,369.7 1031.3,358.4 1037.6,357.8 1043.9,339.5 1050.2,339.5 1056.5,339.5 1062.8,334.9 1069.1,338 1075.4,338 1081.7,338 1088,338.9 1094.3,332.8 1100.6,317.3 1106.9,316.4 1113.2,316.4 1119.5,316.4 1125.8,306.9 1132.1,306.9 1138.4,306.9 1144.7,306.9 1151,306.9 1157.3,306.9 1163.6,341.6 1169.9,341.6 1176.2,341.6 1182.5,341.6 1188.8,341.6 1195.1,341.6 1201.4,338.5 1207.7,338.5 1214,338.5 1220.3,333.9 1226.6,333.9 1232.9,333.9 1239.2,333.9 1245.5,332.1 1251.8,329.3 1258.1,328.3 1264.4,328.3 1270.7,328.3 1277,332.9 1283.3,332.9 1289.6,332.9 1295.9,332.9 1302.2,332.9 1308.5,338.1 1314.8,349.8 1321.1,349.8 1327.4,353.5 1333.7,352.3 1340,352.3 1346.3,345.8 1352.6,333.4 1358.9,333.1 1365.2,333.1 1371.5,317.9 1377.8,319.8 1384.1,319.8 1390.4,319.8 1396.7,313.2 1403,294.1 1409.3,282.2 1415.6,279 1421.9,278.5 1428.2,278.5 1434.5,278.2 1440.8,272.3 1447.1,248.2 1453.4,243.8 1459.7,243.8 1466,243.8 1472.3,243.8 1478.6,249.7 1484.9,246.7 1491.2,244.3 1497.5,244.3 1503.8,244.3 1510.1,217.3 1516.4,215.7 1522.7,203.7 1529,201.5 1535.3,201.5 1541.6,201.5 1547.9,201.5" fill="none" stroke="#2196f3" stroke-width="1.2" stroke-linejoin="round"/>
<polyline points="-2,191 1.3,194.8 7.5,202.9 16.3,210.4 85.7,210.7 89.6,199.3 92.6,197 97.2,195.8 117.8,195.8 122.4,194.2 161.7,193.9 168,193.9 174.3,189.6 180.6,179.4 186.9,179.4 193.2,175.4 199.5,171.4 205.8,156.3 212.1,154.9 218.4,145.4 224.7,137.4 231,128.5 237.3,128.5 243.6,126.4 249.9,112.9 256.2,108.4 262.5,121.9 268.8,121.9 275.1,121.9 281.4,121.9 287.7,121.9 294,121.9 300.3,121.9 306.6,141.6 312.9,151.9 319.2,155.9 325.6,155.9 331.9,155.9 338.2,155.9 344.5,155.9 350.8,155.9 357.1,164.5 363.4,164.5 369.7,165.9 376,201.5 382.3,207.3 388.6,208.1 394.9,211.9 401.2,211.9 407.5,212.4 413.8,213.3 420.1,218.2 426.4,227 432.7,227.9 439,237.4 445.3,242 451.6,246 457.9,251.3 464.2,260.2 470.5,260.2 476.8,260.2 483.1,260.2 489.4,260.2 495.7,260.2 502,261.9 508.3,280.2 514.6,289.7 520.9,290.9 527.2,290.9 533.5,300.4 539.8,303.4 546.1,303.4 552.4,303.4 558.7,303.4 565,319.6 571.3,327.9 577.6,327.9 583.9,328.7 590.2,335.9 596.5,335.9 602.8,359.6 609.1,359.6 615.4,359.6 621.7,364.7 628,365.1 634.3,365.1 640.6,379 646.9,386.1 653.2,386.1 659.5,386.1 665.8,386.1 672.1,386.1 678.4,386.1 684.7,386.1 691,386.1 697.3,386.1 703.6,395.3 709.9,395.3 716.2,395.3 722.5,410.3 728.8,422.1 735.1,418 741.4,418 747.7,418 754,418 760.3,418 766.6,418 772.9,418 779.2,418 785.5,418 791.8,418 798.1,418 804.4,418 810.7,398 817,392.5 823.3,392.5 829.6,392.5 835.9,392.5 842.2,390.1 848.5,390.1 854.8,390.1 861.1,390.1 867.4,390.1 873.7,390.1 880,390.1 886.3,390.1 892.6,390.1 898.9,391.5 905.2,401.9 911.5,413.6 917.8,419 924.1,398.1 930.4,398.1 936.7,398.1 943,398.1 949.4,398.1 955.7,398.1 962,398.1 968.3,395.3 974.6,395.3 980.9,395.3 987.2,395.3 993.5,395.3 999.8,393.3 1006.1,393.3 1012.4,391.5 1018.7,391.5 1025,378.9 1031.3,377.1 1037.6,377.1 1043.9,377.1 1050.2,377.1 1056.5,377.1 1062.8,377.1 1069.1,377.1 1075.4,377.1 1081.7,377.1 1088,377.1 1094.3,371.9 1100.6,356.4 1106.9,355.5 1113.2,355.5 1119.5,355.5 1125.8,347.9 1132.1,346.3 1138.4,336.8 1144.7,336.2 1151,317.9 1157.3,317.9 1163.6,317.9 1169.9,316.4 1176.2,316.4 1182.5,316.4 1188.8,316.4 1195.1,316.4 1201.4,316.4 1207.7,316.4 1214,316.4 1220.3,316.4 1226.6,316.4 1232.9,312.1 1239.2,312.1 1245.5,312.1 1251.8,312.1 1258.1,312.1 1264.4,312.1 1270.7,333.9 1277,333.9 1283.3,333.9 1289.6,333.9 1295.9,333.9 1302.2,333.9 1308.5,333.9 1314.8,342.8 1321.1,342.8 1327.4,342.8 1333.7,342.8 1340,342.8 1346.3,342.8 1352.6,333.4 1358.9,333.1 1365.2,333.1 1371.5,333.1 1377.8,333.1 1384.1,333.1 1390.4,333.1 1396.7,326.5 1403,307.4 1409.3,295.5 1415.6,292.3 1421.9,291.8 1428.2,291.8 1434.5,291.8 1440.8,291.8 1447.1,291.8 1453.4,291.8 1459.7,291.8 1466,291.8 1472.3,291.8 1478.6,278.5 1484.9,278.5 1491.2,278.5 1497.5,278.5 1503.8,278.5 1510.1,264.1 1516.4,264.1 1522.7,264.1 1529,263.4 1535.3,263.4 1541.6,263.2 1547.9,257.2" fill="none" stroke="#801922" stroke-width="1.2" stroke-linejoin="round"/>
<polyline points="-2.1,89.4 4.2,96.5 10.5,89.4 16.8,83.7 23.1,71.6 29.4,77 35.7,84.3 42,88 48.3,80.3 54.6,118.2 60.9,149.6 67.2,125.6 73.5,139.3 79.8,141.1 86.1,116.4 92.4,130.3 98.7,131.2 105,164.4 111.3,142 117.6,145.6 123.9,172.4 130.2,151.2 136.5,161.7 142.8,172.4 149.1,210.9 155.4,239.6 161.7,245.3 168,229.6 174.3,214.2 180.6,168.4 186.9,209.3 193.2,220.5 199.5,242.3 205.8,227.5 212.1,241.2 218.4,286.2 224.7,298.4 231,284.3 237.3,303.4 243.6,301.7 249.9,284.3 256.2,264.3 262.5,291.3 268.8,299.3 275.1,305.3 281.4,331.4 287.7,327.8 294,344.2 300.3,332.4 306.6,320.5 312.9,331.4 319.2,310.6 325.6,297.1 331.9,295.3 338.2,309.6 344.5,307.6 350.8,294.6 357.1,259.3 363.4,276.4 369.7,261.4 376,255.6 382.3,281.2 388.6,278.5 394.9,287.4 401.2,295.4 407.5,374.3 413.8,351.7 420.1,331.3 426.4,369 432.7,330.6 439,413.9 445.3,437.2 451.6,449.1 457.9,444.8 464.2,476.1 470.5,463.8 476.8,470.1 483.1,502.9 489.4,485.6 495.7,438.6 502,458.9 508.3,432.4 514.6,474.3 520.9,466.8 527.2,448.5 533.5,390.2 539.8,401.3 546.1,432.7 552.4,464 558.7,429.4 565,378.9 571.3,391.1 577.6,319.5 583.9,339.6 590.2,357.2 596.5,384.7 602.8,383.4 609.1,403.7 615.4,412.2 621.7,433.5 628,425.8 634.3,460.6 640.6,453.5 646.9,417.3 653.2,404.7 659.5,419.3 665.8,424.4 672.1,457.6 678.4,425.4 684.7,455.7 691,439.6 697.3,403.6 703.6,411.3 709.9,404.7 716.2,411.3 722.5,438.1 728.8,422.6 735.1,407 741.4,394.7 747.7,396 754,390.6 760.3,373.4 766.6,372 772.9,402.2 779.2,396.6 785.5,415 791.8,409.6 798.1,424.2 804.4,439.6 810.7,433.7 817,402.3 823.3,412.8 829.6,374.8 835.9,360.8 842.2,367.4 848.5,369 854.8,341.4 861.1,333.3 867.4,304.7 873.7,330.3 880,312.7 886.3,306.5 892.6,343.3 898.9,360.1 905.2,362.1 911.5,351.2 917.8,334.7 924.1,315.6 930.4,314.6 936.7,289.3 943,259.5 949.4,341.4 955.7,349.5 962,336.7 968.3,342.6 974.6,348.3 980.9,333.7 987.2,323.4 993.5,330.5 999.8,342.6 1006.1,332.6 1012.4,346.5 1018.7,329.8 1025,334.1 1031.3,343.7 1037.6,317.2 1043.9,352.2 1050.2,332.6 1056.5,341.4 1062.8,341.3 1069.1,351.8 1075.4,350.5 1081.7,347.5 1088,317.7 1094.3,323.1 1100.6,314.3 1106.9,339.5 1113.2,339.5 1119.5,341.3 1125.8,339.3 1132.1,346.3 1138.4,334.7 1144.7,341.3 1151,364.2 1157.3,352.4 1163.6,327.9 1169.9,328 1176.2,333.7 1182.5,335.3 1188.8,304.5 1195.1,282.7 1201.4,289.1 1207.7,312.4 1214,329.6 1220.3,349.1 1226.6,345.7 1232.9,340.5 1239.2,268.6 1245.5,230.7 1251.8,211.9 1258.1,201.6 1264.4,248.2 1270.7,221.6 1277,231.8 1283.3,250.8 1289.6,265.9 1295.9,262.6 1302.2,259.8 1308.5,229.6 1314.8,228.5 1321.1,213.4 1327.4,206.5 1333.7,206.5 1340,224.9 1346.3,210.8 1352.6,175.7 1358.9,177.9 1365.2,174.6 1371.5,188.3 1377.8,175.7 1384.1,202.3 1390.4,193" fill="none" stroke="#43a047" stroke-width="1.2" stroke-linejoin="round"/>
<rect x="0" y="278" width="1614" height="2" fill="#2962ff"/>
<path d="M23.5 247V291M42.5 244V285M48.5 223V255M55.5 206V252M61.5 209V233M67.5 184V217M73.5 167V195M86.5 160V195M92.5 85V168M105.5 98V121M111.5 95V107M124.5 78V103M143.5 91V129M155.5 83V118M168.5 81V123M174.5 69V94M181.5 66V84M206.5 75V103M225.5 121V154M244.5 112V145M269.5 130V167M288.5 148V180M325.5 214V246M332.5 213V236M338.5 159V218M363.5 222V247M388.5 278V304M401.5 280V311M407.5 273V307M414.5 253V299M445.5 321V352M458.5 323V362M464.5 297V334M477.5 301V332M483.5 295V320M489.5 279V299M502.5 303V322M508.5 285V312M514.5 257V295M527.5 259V281M533.5 248V276M546.5 270V309M571.5 340V411M577.5 319V405M590.5 319V425M615.5 435V458M628.5 447V483M647.5 482V526M653.5 435V486M666.5 425V459M678.5 455V475M685.5 445V469M691.5 382V450M716.5 426V464M722.5 371V437M735.5 310V392M760.5 374V402M785.5 415V454M798.5 447V468M804.5 417V470M811.5 399V423M836.5 423V464M848.5 425V460M855.5 399V437M867.5 393V415M886.5 413V455M893.5 403V432M899.5 391V408M911.5 381V407M918.5 370V397M937.5 377V410M949.5 402V419M968.5 419V442M974.5 394V438M987.5 370V418M993.5 351V379M1012.5 339V372M1019.5 329V355M1025.5 301V334M1037.5 299V333M1044.5 304V322M1069.5 350V379M1075.5 328V356M1082.5 312V333M1094.5 287V330M1100.5 256V313M1119.5 330V360M1138.5 329V358M1145.5 320V341M1163.5 326V370M1176.5 327V349M1195.5 317V345M1208.5 328V356M1220.5 322V349M1233.5 341V357M1239.5 342V353M1245.5 303V350M1258.5 307V331M1283.5 335V348M1296.5 324V348M1315.5 352V388M1321.5 320V357M1346.5 304V338M1353.5 279V311M1384.5 338V361M1390.5 332V349M1397.5 265V300M1403.5 227V271M1409.5 203V234M1416.5 197V225M1428.5 217V235M1453.5 261V292M1460.5 247V267M1466.5 223V264M1472.5 227V240M1479.5 208V231M1485.5 202V221M1491.5 197V214M1504.5 202V237M1510.5 167V224M1523.5 171V180M1535.5 170V204M1548.5 188V208" stroke="#089981" stroke-width="1" fill="none"/>
<path d="M4.5 239V289M10.5 259V300M17.5 271V310M29.5 258V285M36.5 260V293M80.5 170V199M99.5 82V130M118.5 99V103M130.5 79V96M136.5 78V113M149.5 96V101M162.5 89V108M187.5 69V90M193.5 58V99M199.5 82V107M212.5 78V131M218.5 115V150M231.5 115V143M237.5 123V159M250.5 113V135M256.5 115V158M262.5 124V186M275.5 134V154M281.5 144V184M294.5 132V178M300.5 141V174M307.5 168V225M313.5 206V246M319.5 217V254M344.5 162V210M351.5 199V227M357.5 218V244M370.5 220V246M376.5 239V291M382.5 259V303M395.5 270V312M420.5 245V298M426.5 286V324M433.5 272V316M439.5 294V343M451.5 325V360M470.5 317V341M496.5 273V311M521.5 254V288M540.5 247V284M552.5 274V302M559.5 265V299M565.5 295V394M584.5 323V376M596.5 329V425M603.5 409V472M609.5 423V467M622.5 443V483M634.5 463V471M641.5 469V511M659.5 438V467M672.5 427V475M697.5 377V431M704.5 400V435M710.5 418V464M729.5 371V404M741.5 313V342M748.5 334V385M754.5 357V389M767.5 379V409M773.5 388V423M779.5 411V442M792.5 423V464M817.5 368V426M823.5 414V439M830.5 426V460M842.5 415V459M861.5 401V425M874.5 389V416M880.5 411V445M905.5 389V416M924.5 326V375M930.5 371V412M943.5 394V431M956.5 406V430M962.5 422V457M981.5 402V419M1000.5 346V369M1006.5 356V382M1031.5 297V352M1050.5 310V348M1056.5 328V368M1063.5 347V372M1088.5 306V322M1107.5 254V344M1113.5 324V354M1126.5 329V351M1132.5 333V359M1151.5 313V337M1157.5 322V349M1170.5 329V357M1182.5 323V340M1189.5 331V354M1201.5 307V361M1214.5 328V352M1226.5 339V359M1252.5 298V329M1264.5 312V355M1271.5 312V343M1277.5 338V368M1290.5 321V351M1302.5 332V345M1308.5 338V369M1327.5 319V346M1334.5 317V335M1340.5 329V340M1359.5 279V292M1365.5 289V315M1371.5 305V335M1378.5 321V361M1422.5 196V249M1434.5 213V237M1441.5 231V255M1447.5 243V272M1497.5 206V234M1516.5 168V187M1529.5 166V195M1542.5 175V207" stroke="#f23645" stroke-width="1" fill="none"/>
<path d="M21 264h5v27h-5zM40 247h5v30h-5zM46 229h5v19h-5zM53 213h5v17h-5zM59 211h5v3h-5zM65 187h5v25h-5zM71 175h5v12h-5zM84 162h5v29h-5zM90 96h5v67h-5zM103 101h5v19h-5zM109 99h5v3h-5zM122 81h5v20h-5zM141 96h5v14h-5zM153 89h5v11h-5zM166 89h5v9h-5zM172 83h5v7h-5zM179 71h5v13h-5zM204 80h5v8h-5zM223 125h5v25h-5zM242 116h5v26h-5zM267 142h5v23h-5zM286 151h5v22h-5zM323 229h5v15h-5zM330 214h5v16h-5zM336 168h5v47h-5zM361 227h5v16h-5zM386 284h5v11h-5zM399 301h5v3h-5zM405 284h5v18h-5zM412 264h5v21h-5zM443 327h5v5h-5zM456 332h5v13h-5zM462 320h5v13h-5zM475 310h5v22h-5zM481 297h5v15h-5zM487 295h5v2h-5zM500 307h5v3h-5zM506 294h5v12h-5zM512 259h5v36h-5zM525 261h5v19h-5zM531 255h5v9h-5zM544 278h5v3h-5zM569 351h5v27h-5zM575 331h5v21h-5zM588 330h5v39h-5zM613 444h5v7h-5zM626 463h5v15h-5zM645 485h5v14h-5zM651 438h5v44h-5zM664 432h5v27h-5zM676 466h5v9h-5zM683 448h5v19h-5zM689 390h5v59h-5zM714 429h5v35h-5zM720 378h5v54h-5zM733 319h5v73h-5zM758 383h5v1h-5zM783 425h5v9h-5zM796 453h5v9h-5zM802 417h5v36h-5zM809 404h5v13h-5zM834 425h5v33h-5zM846 439h5v17h-5zM853 403h5v32h-5zM865 404h5v8h-5zM884 422h5v17h-5zM891 407h5v19h-5zM897 394h5v14h-5zM909 390h5v7h-5zM916 373h5v14h-5zM935 396h5v7h-5zM947 409h5v7h-5zM966 433h5v7h-5zM972 402h5v32h-5zM985 374h5v40h-5zM991 360h5v15h-5zM1010 341h5v28h-5zM1017 333h5v14h-5zM1023 304h5v30h-5zM1035 312h5v17h-5zM1042 306h5v6h-5zM1067 351h5v12h-5zM1073 334h5v17h-5zM1080 315h5v18h-5zM1092 289h5v26h-5zM1098 259h5v32h-5zM1117 336h5v14h-5zM1136 333h5v16h-5zM1143 323h5v15h-5zM1161 332h5v10h-5zM1174 329h5v18h-5zM1193 317h5v27h-5zM1206 332h5v23h-5zM1218 341h5v1h-5zM1231 350h5v3h-5zM1237 347h5v5h-5zM1243 317h5v32h-5zM1256 314h5v11h-5zM1281 339h5v4h-5zM1294 334h5v12h-5zM1313 352h5v12h-5zM1319 327h5v26h-5zM1344 304h5v33h-5zM1351 282h5v24h-5zM1382 345h5v5h-5zM1388 340h5v5h-5zM1395 268h5v24h-5zM1401 230h5v40h-5zM1407 211h5v19h-5zM1414 201h5v9h-5zM1426 221h5v11h-5zM1451 262h5v5h-5zM1458 259h5v7h-5zM1464 229h5v32h-5zM1470 228h5v3h-5zM1477 213h5v17h-5zM1483 206h5v8h-5zM1489 206h5v1h-5zM1502 210h5v17h-5zM1508 175h5v36h-5zM1521 174h5v5h-5zM1533 175h5v14h-5zM1546 192h5v11h-5z" fill="#089981"/>
<path d="M2 241h5v45h-5zM8 283h5v5h-5zM15 289h5v2h-5zM27 264h5v12h-5zM34 275h5v4h-5zM78 174h5v17h-5zM97 96h5v25h-5zM116 99h5v4h-5zM128 80h5v3h-5zM134 83h5v27h-5zM147 96h5v5h-5zM160 89h5v8h-5zM185 71h5v6h-5zM191 77h5v8h-5zM197 87h5v1h-5zM210 80h5v39h-5zM216 118h5v32h-5zM229 121h5v19h-5zM235 139h5v3h-5zM248 116h5v15h-5zM254 130h5v2h-5zM260 130h5v35h-5zM273 141h5v5h-5zM279 145h5v28h-5zM292 148h5v14h-5zM298 161h5v12h-5zM305 172h5v39h-5zM311 211h5v29h-5zM317 239h5v7h-5zM342 168h5v42h-5zM349 210h5v11h-5zM355 220h5v23h-5zM368 227h5v15h-5zM374 241h5v46h-5zM380 286h5v13h-5zM393 284h5v20h-5zM418 262h5v30h-5zM424 291h5v9h-5zM431 299h5v7h-5zM437 305h5v27h-5zM449 325h5v20h-5zM468 320h5v12h-5zM494 295h5v15h-5zM519 260h5v17h-5zM538 251h5v31h-5zM550 277h5v11h-5zM557 286h5v10h-5zM563 295h5v80h-5zM582 330h5v39h-5zM594 332h5v82h-5zM601 415h5v23h-5zM607 431h5v19h-5zM620 443h5v34h-5zM632 463h5v8h-5zM639 469h5v34h-5zM657 438h5v21h-5zM670 433h5v42h-5zM695 391h5v11h-5zM702 402h5v31h-5zM708 432h5v32h-5zM727 378h5v14h-5zM739 313h5v27h-5zM746 339h5v19h-5zM752 357h5v28h-5zM765 383h5v21h-5zM771 404h5v9h-5zM777 412h5v22h-5zM790 425h5v36h-5zM815 405h5v15h-5zM821 420h5v5h-5zM828 428h5v30h-5zM840 428h5v28h-5zM859 403h5v9h-5zM872 404h5v8h-5zM878 412h5v27h-5zM903 394h5v3h-5zM922 358h5v14h-5zM928 372h5v31h-5zM941 395h5v21h-5zM954 415h5v10h-5zM960 424h5v16h-5zM979 402h5v11h-5zM998 361h5v7h-5zM1004 367h5v2h-5zM1029 305h5v26h-5zM1048 327h5v17h-5zM1054 342h5v19h-5zM1061 360h5v3h-5zM1086 313h5v2h-5zM1105 259h5v83h-5zM1111 344h5v6h-5zM1124 336h5v7h-5zM1130 342h5v7h-5zM1149 324h5v7h-5zM1155 331h5v12h-5zM1168 332h5v15h-5zM1180 331h5v4h-5zM1187 335h5v9h-5zM1199 318h5v35h-5zM1212 331h5v11h-5zM1224 341h5v11h-5zM1250 318h5v6h-5zM1262 314h5v26h-5zM1269 321h5v19h-5zM1275 338h5v4h-5zM1288 340h5v7h-5zM1300 335h5v7h-5zM1306 342h5v23h-5zM1325 327h5v2h-5zM1332 328h5v6h-5zM1338 331h5v5h-5zM1357 282h5v8h-5zM1363 289h5v24h-5zM1369 310h5v20h-5zM1376 329h5v21h-5zM1420 202h5v47h-5zM1432 222h5v10h-5zM1439 233h5v18h-5zM1445 250h5v16h-5zM1495 207h5v18h-5zM1514 176h5v2h-5zM1527 174h5v15h-5zM1540 175h5v28h-5z" fill="#f23645"/>
<line x1="1" y1="192.5" x2="1614" y2="192.5" stroke="#089981" stroke-width="1" stroke-dasharray="1 2" shape-rendering="crispEdges"/>
</g>
<rect x="0" y="573" width="1669" height="1" fill="#e0e3eb"/>
<g clip-path="url(#cr)">
<rect x="0" y="593" width="1614" height="103" fill="#7e57c2" fill-opacity="0.1"/>
<line x1="1" y1="593.5" x2="1614" y2="593.5" stroke="#787b86" stroke-width="1" stroke-dasharray="5.2 5.8" />
<line x1="1" y1="644.5" x2="1614" y2="644.5" stroke="#787b86" stroke-width="1" stroke-dasharray="5.2 5.8" />
<line x1="1" y1="695.5" x2="1614" y2="695.5" stroke="#787b86" stroke-width="1" stroke-dasharray="5.2 5.8" />
<polyline points="-2.1,654.5 4.2,674.8 10.5,675.5 16.8,676.3 23.1,662.3 29.4,666.4 35.7,667.7 42,650.9 48.3,642.2 54.6,634.6 60.9,633.7 67.2,622.8 73.5,617.8 79.8,627 86.1,615.1 92.4,594 98.7,607.9 105,602.2 111.3,601.7 117.6,603.2 123.9,596.6 130.2,597 136.5,615.4 142.8,610.3 149.1,613 155.4,608.5 161.7,613.6 168,610.4 174.3,607.8 180.6,602.4 186.9,607.1 193.2,613.5 199.5,616.8 205.8,612.3 212.1,642.7 218.4,661.4 224.7,646 231,653.7 237.3,654.7 243.6,639 249.9,647.6 256.2,648.1 262.5,666.7 268.8,651.9 275.1,653.9 281.4,667.9 287.7,654 294,659.5 300.3,664.9 306.6,681.9 312.9,692 319.2,693.9 325.6,682.3 331.9,671.6 338.2,645 344.5,662.9 350.8,667.3 357.1,675.4 363.4,666.8 369.7,672.1 376,687.3 382.3,690.9 388.6,682.1 394.9,688.2 401.2,687.1 407.5,675.7 413.8,663.5 420.1,674.3 426.4,677.4 432.7,679.6 439,689.1 445.3,686.5 451.6,692.3 457.9,683.5 464.2,674.8 470.5,679.5 476.8,664.7 483.1,655.8 489.4,654.6 495.7,662.6 502,661.1 508.3,651.5 514.6,629.7 520.9,640.7 527.2,632.2 533.5,629 539.8,645.6 546.1,644 552.4,649.6 558.7,654.6 565,690.2 571.3,675.3 577.6,663.1 583.9,677.5 590.2,657.1 596.5,683.3 602.8,689 609.1,691.8 615.4,689.5 621.7,697.2 628,690.3 634.3,692 640.6,700.2 646.9,690 653.2,665.8 659.5,672.3 665.8,660 672.1,673.2 678.4,669.7 684.7,661.2 691,638.1 697.3,642.3 703.6,653.7 709.9,663.9 716.2,650.2 722.5,633.1 728.8,637.6 735.1,617.1 741.4,624.6 747.7,631.1 754,640.7 760.3,640.3 766.6,647.6 772.9,650.6 779.2,658 785.5,654.7 791.8,666.7 798.1,663.4 804.4,647.6 810.7,642.5 817,648.5 823.3,650.5 829.6,663.5 835.9,648.7 842.2,660.1 848.5,652.9 854.8,638.2 861.1,641.4 867.4,638.7 873.7,641.7 880,653.6 886.3,646.2 892.6,639.1 898.9,633.6 905.2,634.3 911.5,631.7 917.8,623.5 924.1,622.9 930.4,641.5 936.7,638.4 943,649.1 949.4,645.8 955.7,654.2 962,662.4 968.3,658.3 974.6,638.6 980.9,644.9 987.2,624.8 993.5,618.5 999.8,622.9 1006.1,624 1012.4,610.9 1018.7,607.4 1025,596.1 1031.3,614.8 1037.6,607.7 1043.9,605.2 1050.2,629.7 1056.5,639.3 1062.8,640.4 1069.1,634.5 1075.4,625.9 1081.7,616.9 1088,616.4 1094.3,605.2 1100.6,594.1 1106.9,642 1113.2,645.6 1119.5,639.8 1125.8,642.7 1132.1,645.6 1138.4,638.1 1144.7,632.9 1151,637.1 1157.3,644.3 1163.6,638.5 1169.9,646.9 1176.2,637.1 1182.5,639.8 1188.8,646.1 1195.1,630.2 1201.4,651.2 1207.7,640.1 1214,645.1 1220.3,645.1 1226.6,651.4 1232.9,650.5 1239.2,648.3 1245.5,628.8 1251.8,632.8 1258.1,627.3 1264.4,645.6 1270.7,645.6 1277,646.9 1283.3,645.4 1289.6,651 1295.9,641.1 1302.2,646.7 1308.5,663.9 1314.8,653.4 1321.1,634.6 1327.4,634.8 1333.7,639.7 1340,641.1 1346.3,618.5 1352.6,606.2 1358.9,612.2 1365.2,632.4 1371.5,645.1 1377.8,657.8 1384.1,655.2 1390.4,651.1 1396.7,610 1403,596.2 1409.3,590.4 1415.6,587.3 1421.9,618.2 1428.2,608.7 1434.5,614.8 1440.8,625.7 1447.1,633.9 1453.4,632.3 1459.7,631 1466,617.2 1472.3,616.8 1478.6,610.3 1484.9,607.4 1491.2,607.4 1497.5,621.7 1503.8,614.6 1510.1,599.7 1516.4,601.4 1522.7,600.1 1529,611.6 1535.3,605.7 1541.6,626.4 1547.9,621.4" fill="none" stroke="#7e57c2" stroke-width="2" stroke-linejoin="round"/>
</g>
<text x="9.72" y="21" fill="#131722" stroke="#131722" stroke-width="0.25" textLength="68.36" lengthAdjust="spacingAndGlyphs">USD/JPY, 1D</text>
<text x="86.22" y="21" fill="#131722" stroke="#131722" stroke-width="0.25" textLength="8.8" lengthAdjust="spacingAndGlyphs">O</text>
<text x="95.72" y="21" fill="#089981" stroke="#089981" stroke-width="0.25" textLength="36.78" lengthAdjust="spacingAndGlyphs">153.03</text>
<text x="139.78" y="21" fill="#131722" stroke="#131722" stroke-width="0.25" textLength="8.7" lengthAdjust="spacingAndGlyphs">H</text>
<text x="148.3" y="21" fill="#089981" stroke="#089981" stroke-width="0.25" textLength="37.74" lengthAdjust="spacingAndGlyphs">153.60</text>
<text x="193.28" y="21" fill="#131722" stroke="#131722" stroke-width="0.25" textLength="5.84" lengthAdjust="spacingAndGlyphs">L</text>
<text x="200.76" y="21" fill="#089981" stroke="#089981" stroke-width="0.25" textLength="36.28" lengthAdjust="spacingAndGlyphs">152.82</text>
<text x="245.22" y="21" fill="#131722" stroke="#131722" stroke-width="0.25" textLength="7.32" lengthAdjust="spacingAndGlyphs">C</text>
<text x="253.76" y="21" fill="#089981" stroke="#089981" stroke-width="0.25" textLength="36.26" lengthAdjust="spacingAndGlyphs">153.43</text>
<text x="298.7" y="21" fill="#089981" stroke="#089981" stroke-width="0.25" textLength="81.84" lengthAdjust="spacingAndGlyphs">+0.40 (+0.26%)</text>
<text x="9.22" y="39" fill="#131722" stroke="#131722" stroke-width="0.25" textLength="251.28" lengthAdjust="spacingAndGlyphs">Moving Average Triple (50, 100, 200, Simple)</text>
<text x="268.8" y="39" fill="#ff6d00" stroke="#ff6d00" stroke-width="0.25" textLength="37.22" lengthAdjust="spacingAndGlyphs">150.10</text>
<text x="313.78" y="39" fill="#2196f3" stroke="#2196f3" stroke-width="0.25" textLength="36.8" lengthAdjust="spacingAndGlyphs">148.55</text>
<text x="359.72" y="39" fill="#26c6da" stroke="#26c6da" stroke-width="0.25" textLength="35.36" lengthAdjust="spacingAndGlyphs">147.71</text>
<text x="8.8" y="57" fill="#131722" stroke="#131722" stroke-width="0.25" textLength="156.72" lengthAdjust="spacingAndGlyphs">Ichimoku (9, 26, 52, 26, 26)</text>
<text x="173.76" y="57" fill="#2196f3" stroke="#2196f3" stroke-width="0.25" textLength="36.74" lengthAdjust="spacingAndGlyphs">153.01</text>
<text x="219.28" y="57" fill="#801922" stroke="#801922" stroke-width="0.25" textLength="36.78" lengthAdjust="spacingAndGlyphs">150.79</text>
<text x="264.74" y="57" fill="#43a047" stroke="#43a047" stroke-width="0.25" textLength="36.32" lengthAdjust="spacingAndGlyphs">153.43</text>
<text x="309.76" y="57" fill="#a5d6a7" stroke="#a5d6a7" stroke-width="0.25" textLength="37.28" lengthAdjust="spacingAndGlyphs">151.90</text>
<text x="354.76" y="57" fill="#faa1a4" stroke="#faa1a4" stroke-width="0.25" textLength="37.74" lengthAdjust="spacingAndGlyphs">149.98</text>
<text x="9.72" y="594" fill="#131722" stroke="#131722" stroke-width="0.25" textLength="41.78" lengthAdjust="spacingAndGlyphs">RSI (14)</text>
<text x="60.22" y="594" fill="#7e57c2" stroke="#7e57c2" stroke-width="0.25" textLength="31.3" lengthAdjust="spacingAndGlyphs">58.75</text>
<text x="1621.82" y="35.4" fill="#131722" stroke="#131722" stroke-width="0.25" textLength="39.24" lengthAdjust="spacingAndGlyphs">160.00</text>
<text x="1621.82" y="85" fill="#131722" stroke="#131722" stroke-width="0.25" textLength="39.24" lengthAdjust="spacingAndGlyphs">158.00</text>
<text x="1621.82" y="134" fill="#131722" stroke="#131722" stroke-width="0.25" textLength="39.24" lengthAdjust="spacingAndGlyphs">156.00</text>
<text x="1621.82" y="381" fill="#131722" stroke="#131722" stroke-width="0.25" textLength="39.24" lengthAdjust="spacingAndGlyphs">146.00</text>
<text x="1621.82" y="430" fill="#131722" stroke="#131722" stroke-width="0.25" textLength="39.24" lengthAdjust="spacingAndGlyphs">144.00</text>
<text x="1621.82" y="479" fill="#131722" stroke="#131722" stroke-width="0.25" textLength="39.24" lengthAdjust="spacingAndGlyphs">142.00</text>
<text x="1621.82" y="528" fill="#131722" stroke="#131722" stroke-width="0.25" textLength="39.24" lengthAdjust="spacingAndGlyphs">140.00</text>
<text x="1622.22" y="675" fill="#131722" stroke="#131722" stroke-width="0.25" textLength="31.86" lengthAdjust="spacingAndGlyphs">40.00</text>
<path d="M1614 166H1664.7a2 2 0 0 1 2 2V183a2 2 0 0 1 -2 2H1614z" fill="#089981"/>
<path d="M1614 185H1664.7a2 2 0 0 1 2 2V200a2 2 0 0 1 -2 2H1614z" fill="#43a047"/>
<path d="M1614 202H1664.7a2 2 0 0 1 2 2V218a2 2 0 0 1 -2 2H1614z" fill="#2196f3"/>
<path d="M1614 221H1664.7a2 2 0 0 1 2 2V238a2 2 0 0 1 -2 2H1614z" fill="#a5d6a7"/>
<path d="M1614 249H1664.7a2 2 0 0 1 2 2V264a2 2 0 0 1 -2 2H1614z" fill="#801922"/>
<path d="M1614 266H1664.7a2 2 0 0 1 2 2V283a2 2 0 0 1 -2 2H1614z" fill="#ff6d00"/>
<path d="M1614 285H1664.7a2 2 0 0 1 2 2V300a2 2 0 0 1 -2 2H1614z" fill="#faa1a4"/>
<path d="M1614 302H1664.7a2 2 0 0 1 2 2V318a2 2 0 0 1 -2 2H1614z" fill="#2962ff"/>
<path d="M1614 320H1664.7a2 2 0 0 1 2 2V336a2 2 0 0 1 -2 2H1614z" fill="#2196f3"/>
<path d="M1614 338H1664.7a2 2 0 0 1 2 2V354.5a2 2 0 0 1 -2 2H1614z" fill="#26c6da"/>
<text x="1623.84" y="179.9" fill="#fff" stroke="#fff" stroke-width="0.25" textLength="38.2" lengthAdjust="spacingAndGlyphs">153.43</text>
<text x="1623.84" y="197.9" fill="#fff" stroke="#fff" stroke-width="0.25" textLength="38.2" lengthAdjust="spacingAndGlyphs">153.43</text>
<text x="1623.84" y="215.4" fill="#fff" stroke="#fff" stroke-width="0.25" textLength="38.2" lengthAdjust="spacingAndGlyphs">153.01</text>
<text x="1623.84" y="234.9" fill="#131722" stroke="#131722" stroke-width="0.25" textLength="38.2" lengthAdjust="spacingAndGlyphs">151.90</text>
<text x="1623.84" y="261.9" fill="#fff" stroke="#fff" stroke-width="0.25" textLength="38.2" lengthAdjust="spacingAndGlyphs">150.79</text>
<text x="1623.84" y="279.9" fill="#fff" stroke="#fff" stroke-width="0.25" textLength="38.2" lengthAdjust="spacingAndGlyphs">150.10</text>
<text x="1623.84" y="297.9" fill="#131722" stroke="#131722" stroke-width="0.25" textLength="38.2" lengthAdjust="spacingAndGlyphs">149.98</text>
<text x="1623.84" y="315.4" fill="#fff" stroke="#fff" stroke-width="0.25" textLength="38.2" lengthAdjust="spacingAndGlyphs">149.94</text>
<text x="1623.84" y="333.4" fill="#fff" stroke="#fff" stroke-width="0.25" textLength="38.2" lengthAdjust="spacingAndGlyphs">148.55</text>
<text x="1623.84" y="351.6" fill="#131722" stroke="#131722" stroke-width="0.25" textLength="38.2" lengthAdjust="spacingAndGlyphs">147.71</text>
<path d="M1614 612.7H1658.4a2 2 0 0 1 2 2V629.9a2 2 0 0 1 -2 2H1614z" fill="#7e57c2"/>
<text x="1622.74" y="626.6" fill="#fff" stroke="#fff" stroke-width="0.25" textLength="32.34" lengthAdjust="spacingAndGlyphs">58.75</text>
<text x="10.5" y="731" fill="#131722" stroke="#131722" stroke-width="0.25" text-anchor="middle">Dec</text>
<text x="149.5" y="731" fill="#131722" stroke="#131722" stroke-width="0.25" font-weight="bold" text-anchor="middle">2025</text>
<text x="294.5" y="731" fill="#131722" stroke="#131722" stroke-width="0.25" text-anchor="middle">Feb</text>
<text x="420.5" y="731" fill="#131722" stroke="#131722" stroke-width="0.25" text-anchor="middle">Mar</text>
<text x="552.5" y="731" fill="#131722" stroke="#131722" stroke-width="0.25" text-anchor="middle">Apr</text>
<text x="691.5" y="731" fill="#131722" stroke="#131722" stroke-width="0.25" text-anchor="middle">May</text>
<text x="830.5" y="731" fill="#131722" stroke="#131722" stroke-width="0.25" text-anchor="middle">Jun</text>
<text x="962.5" y="731" fill="#131722" stroke="#131722" stroke-width="0.25" text-anchor="middle">Jul</text>
<text x="1107.5" y="731" fill="#131722" stroke="#131722" stroke-width="0.25" text-anchor="middle">Aug</text>
<text x="1239.5" y="731" fill="#131722" stroke="#131722" stroke-width="0.25" text-anchor="middle">Sep</text>
<text x="1378.5" y="731" fill="#131722" stroke="#131722" stroke-width="0.25" text-anchor="middle">Oct</text>
<text x="1523.5" y="731" fill="#131722" stroke="#131722" stroke-width="0.25" text-anchor="middle">Nov</text>
<rect x="0" y="0" width="1671" height="1.7" fill="#eff1f5"/>
<rect x="0" y="0" width="1.7" height="742" fill="#eff1f5"/>
<rect x="1669" y="0" width="2" height="742" fill="#eff1f5"/>
<rect x="0" y="740.2" width="1671" height="1.8" fill="#eff1f5"/>
</svg>
</body></html>
